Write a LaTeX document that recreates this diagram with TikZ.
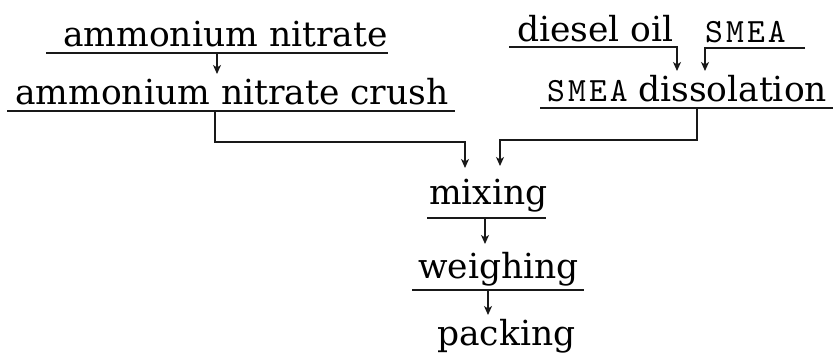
\documentclass[tikz,border=0pt]{standalone}
\usepackage{fontspec}
\setmainfont{DejaVu Serif}
\newfontfamily\smeafont[Extension=.otf, LetterSpace=9]{lmmono10-regular}
\usetikzlibrary{arrows.meta}
\tikzset{
  stage/.style={anchor=base west, inner sep=0pt, font=\fontsize{34.5}{40}\selectfont},
  code/.style={anchor=base west, inner sep=0pt, font=\smeafont\fontsize{34}{40}\selectfont},
  rule/.style={draw=black!90, line width=1.3pt},
  flow/.style={draw=black!90, line width=1.3pt, -{Stealth[length=9pt,width=8pt,inset=2.5pt]}},
}
\begin{document}
\begin{tikzpicture}[x=1pt, y=-1pt]
\useasboundingbox (0,0) rectangle (834,355);

% process steps
\node[stage] (an)    at (63,47)  {ammonium nitrate};
\node[stage] (crush) at (15,105) {ammonium nitrate crush};
\node[stage] (oil)   at (517,42) {diesel oil};
\node[code]  (smea)  at (705,43) {SMEA};
\node[code]  (smeb)  at (547,102) {SMEA};
\node[stage] (diss)  at (638,102) {dissolation};
\node[stage] (mix)   at (429,205) {mixing};
\node[stage] (weigh) at (418,278) {weighing};
\node[stage] (pack)  at (437,345) {packing};

% underlines beneath the steps
\draw[rule] (46,53) -- (388,53);
\draw[rule] (7,111) -- (455,111);
\draw[rule] (540,108) -- (833,108);
\draw[rule] (427,218) -- (546,218);
\draw[rule] (412,290) -- (584,290);

% connection points
\coordinate (anOut)    at (217,53);
\coordinate (crushIn)  at (217,74);
\coordinate (crushOut) at (215,111);
\coordinate (oilOut)   at (509,47);
\coordinate (oilTurn)  at (677,47);
\coordinate (oilIn)    at (677,71);
\coordinate (smeaOut)  at (805,48);
\coordinate (smeaTurn) at (705,48);
\coordinate (smeaIn)   at (705,71);
\coordinate (dissOut)  at (697,108);
\coordinate (mixInL)   at (465,168);
\coordinate (mixInR)   at (500,166);
\coordinate (mixOut)   at (485,218);
\coordinate (weighIn)  at (485,244);
\coordinate (weighOut) at (488,290);
\coordinate (packIn)   at (488,315);

% flow arrows
\draw[flow] (anOut) -- (crushIn);
\draw[flow] (crushOut) |- (465,142) -- (mixInL);
\draw[flow] (oilOut) -- (oilTurn) -- (oilIn);
\draw[flow] (smeaOut) -- (smeaTurn) -- (smeaIn);
\draw[flow] (dissOut) |- (500,140) -- (mixInR);
\draw[flow] (mixOut) -- (weighIn);
\draw[flow] (weighOut) -- (packIn);
\end{tikzpicture}
\end{document}
